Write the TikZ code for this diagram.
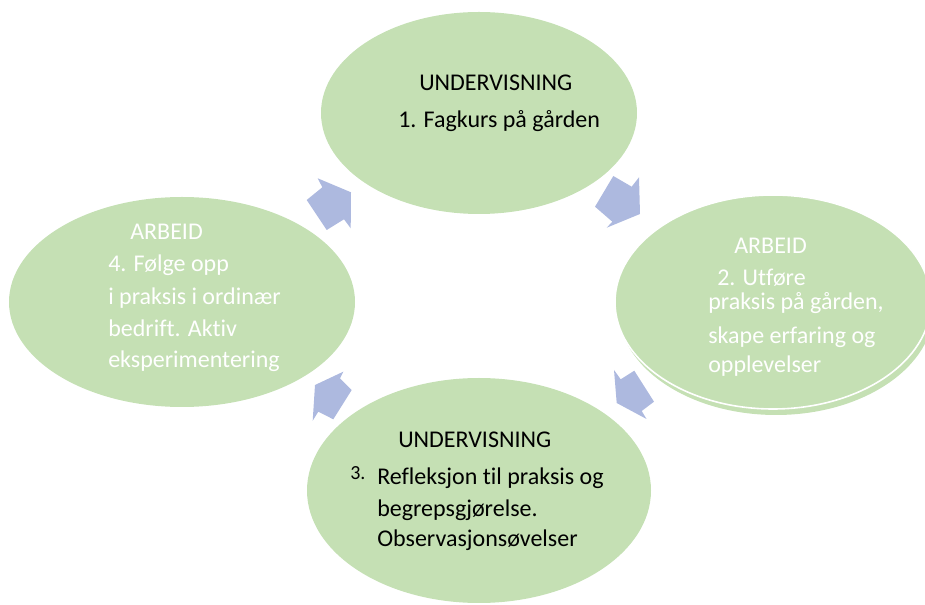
\documentclass[tikz,border=0pt]{standalone}
\usepackage{fontspec}
\setmainfont{Carlito}[Ligatures=NoCommon]
\usetikzlibrary{shapes.geometric}
\definecolor{leaf}{HTML}{C5E0B4}
\definecolor{pil}{HTML}{ADB9DF}
\newcommand{\tnode}[4][black]{\node [txt, text=#1] (#2) at (#3) {#4}}

\begin{document}
\begin{tikzpicture}[x=0.75pt, y=-0.75pt,
  blob/.style={ellipse, fill=leaf, inner sep=0pt},
  txt/.style={anchor=base west, inner sep=0pt, font=\fontsize{18}{22}\selectfont},
  blokkpil/.style={fill=pil}]

\useasboundingbox (0,0) rectangle (925,605);
\clip (0,0) rectangle (925,605);

\node [blob, minimum width=237pt, minimum height=151.5pt] (U1) at (479,113) {};
\node [blob, minimum width=237pt, minimum height=160.5pt] (A2bak) at (776,308) {};
\node [blob, draw=white, line width=1.2pt, minimum width=237pt, minimum height=160.5pt] (A2) at (773,302) {};
\node [blob, minimum width=258pt, minimum height=168.75pt] (U3) at (479,490.5) {};
\node [blob, minimum width=259.5pt, minimum height=157.5pt] (A4) at (182,302) {};

\fill[blokkpil] (317.7,178.3) -- (351,192.3) -- (350.7,228.3) -- (344,219.3) -- (326.7,230) -- (306.7,200) -- (322.3,187.3) -- cycle;
\fill[blokkpil] (639,177.3) -- (640,214) -- (606.7,227.7) -- (612.3,221.7) -- (595,206.7) -- (613.3,176) -- (631.7,186.7) -- cycle;
\fill[blokkpil] (614,370) -- (620.7,379.3) -- (634.3,370.7) -- (654,401.7) -- (641.7,411) -- (646.5,419) -- (616.7,403) -- cycle;
\fill[blokkpil] (343.3,371.7) -- (315,385) -- (312.7,420.7) -- (318.3,411.7) -- (333.3,419.3) -- (351.7,390) -- (340,378.3) -- cycle;

\tnode{U1a}{419,90.7}{UNDERVISNING};
\tnode{U1b}{398,127.7}{1. Fagkurs på gården};

\tnode[white]{A2a}{734,254}{ARBEID};
\tnode[white]{A2b}{717,285.7}{2. Utføre};
\tnode[white]{A2c}{708,310}{praksis på gården,};
\tnode[white]{A2d}{708,344}{skape erfaring og};
\tnode[white]{A2e}{708,373}{opplevelser};

\tnode{U3a}{398,448}{UNDERVISNING};
\node [txt, font=\fontsize{15}{18}\selectfont] (U3n) at (350,480) {3.};
\tnode{U3b}{377,485}{Refleksjon til praksis og};
\tnode{U3c}{377,516.7}{begrepsgjørelse.};
\tnode{U3d}{377,546.7}{Observasjonsøvelser};

\tnode[white]{A4a}{130,240}{ARBEID};
\tnode[white]{A4b}{108,272}{4. Følge opp};
\tnode[white]{A4c}{108,305}{i praksis i ordinær};
\tnode[white]{A4d}{108,337}{bedrift. Aktiv};
\tnode[white]{A4e}{108,368}{eksperimentering};

\end{tikzpicture}
\end{document}
